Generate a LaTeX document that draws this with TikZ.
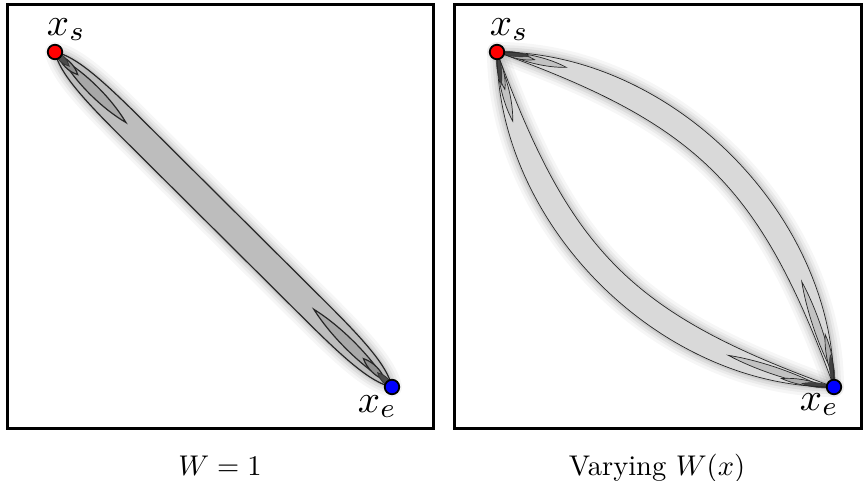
\documentclass[tikz,border=0pt]{standalone}
\usetikzlibrary{calc}
\tikzset{
  frame/.style={draw=black, line width=3pt},
  dotbase/.style={circle, draw=black, line width=1.8pt, minimum size=14.5pt, inner sep=0pt},
  reddot/.style={dotbase, fill=red},
  bluedot/.style={dotbase, fill=blue},
  ptlabel/.style={inner sep=0pt, anchor=base west, scale=3.9},
  caption/.style={inner sep=0pt, anchor=base, scale=2.85},
  contourL/.style={draw=black!85, line width=1.2pt},
  contourR/.style={draw=black!85, line width=0.7pt},
}
\newcommand\bandhalo[1]{\foreach \lw/\op in {20/0.035,14/0.045,9/0.06,4/0.08}{\draw[line width=\lw pt, draw=black, opacity=\op, line join=round] #1;}}
\newcommand\leafshape[4]{\draw[#1] (#2) .. controls ($(#2)!0.3!(#3)!#4!90:(#3)$) and ($(#2)!0.7!(#3)!#4!90:(#3)$) .. (#3) .. controls ($(#2)!0.7!(#3)!#4!-90:(#3)$) and ($(#2)!0.3!(#3)!#4!-90:(#3)$) .. (#2) -- cycle;}
\def\pathL{(0,0) .. controls (18,-12) and (55,-13.5) .. (110,-13.5) -- (365,-13.5) .. controls (420,-13.5) and (457,-12) .. (475.2,0) .. controls (457,12) and (420,13.5) .. (365,13.5) -- (110,13.5) .. controls (55,13.5) and (18,12) .. (0,0) -- cycle}
\def\pathRU{(0,0) .. controls (122.7,-122.7) and (352.5,-122.7) .. (475.2,0) .. controls (280.8,-90.6) and (194.4,-90.6) .. (0,0) -- cycle}
\def\pathRD{(0,0) .. controls (122.7,122.7) and (352.5,122.7) .. (475.2,0) .. controls (280.8,90.6) and (194.4,90.6) .. (0,0) -- cycle}
\begin{document}
\begin{tikzpicture}[x=1pt,y=-1pt]
\useasboundingbox (0,0) rectangle (865,480);
\fill[white] (0,0) rectangle (865,480);
% ---------- left panel ----------
\begin{scope}[shift={(55,52)}, rotate=-44.83]
  \bandhalo{\pathL}
  \fill[black!26] \pathL;
  \leafshape{contourL, fill=black!34}{10,0}{100,0}{7pt}
  \leafshape{contourL, fill=black!44}{4,0}{32,0}{4.5pt}
  \leafshape{contourL, fill=black!34}{365,0}{467,0}{7pt}
  \leafshape{contourL, fill=black!44}{435,0}{465,0}{4.5pt}
  \leafshape{fill=black!70, draw=black!80, line width=0.8pt}{0,0}{20,0}{4pt}
  \leafshape{fill=black!70, draw=black!80, line width=0.8pt}{455,0}{475.2,0}{4pt}
  \draw[contourL] \pathL;
\end{scope}
% ---------- right panel ----------
\begin{scope}[shift={(497,52)}, rotate=-44.83]
  \bandhalo{\pathRU}
  \bandhalo{\pathRD}
  \fill[black!15] \pathRU;
  \fill[black!15] \pathRD;
  \leafshape{contourR, fill=black!24}{6,-5}{60,-38}{5pt}
  \leafshape{contourR, fill=black!32}{4,-3}{32,-21}{3.5pt}
  \leafshape{contourR, fill=black!24}{378,-52}{465,-9}{5pt}
  \leafshape{contourR, fill=black!32}{432,-31}{468,-6}{3.5pt}
  \leafshape{contourR, fill=black!24}{6,5}{60,38}{5pt}
  \leafshape{contourR, fill=black!32}{4,3}{32,21}{3.5pt}
  \leafshape{contourR, fill=black!24}{378,52}{465,9}{5pt}
  \leafshape{contourR, fill=black!32}{432,31}{468,6}{3.5pt}
  \leafshape{fill=black!75, draw=black!80, line width=0.5pt}{0,0}{26,-20}{3pt}
  \leafshape{fill=black!75, draw=black!80, line width=0.5pt}{0,0}{26,20}{3pt}
  \leafshape{fill=black!75, draw=black!80, line width=0.5pt}{475.2,0}{450,-20}{3pt}
  \leafshape{fill=black!75, draw=black!80, line width=0.5pt}{475.2,0}{450,20}{3pt}
  \draw[contourR] \pathRU;
  \draw[contourR] \pathRD;
\end{scope}
% ---------- frames ----------
\draw[frame] (7,4) rectangle (433,428);
\draw[frame] (454,4) rectangle (861,428);
% ---------- endpoints ----------
\node[reddot] (xsL) at (55,52) {};
\node[bluedot] (xeL) at (392,387) {};
\node[reddot] (xsR) at (497,52) {};
\node[bluedot] (xeR) at (834,387) {};
\node[ptlabel] (lxsL) at (46,35) {$x_s$};
\node[ptlabel] (lxeL) at (357,412) {$x_e$};
\node[ptlabel] (lxsR) at (489,35) {$x_s$};
\node[ptlabel] (lxeR) at (799,410) {$x_e$};
% ---------- captions ----------
\node[caption] (capL) at (220,475) {$W=1$};
\node[caption] (capR) at (657,475) {Varying $W(x)$};
\end{tikzpicture}
\end{document}
